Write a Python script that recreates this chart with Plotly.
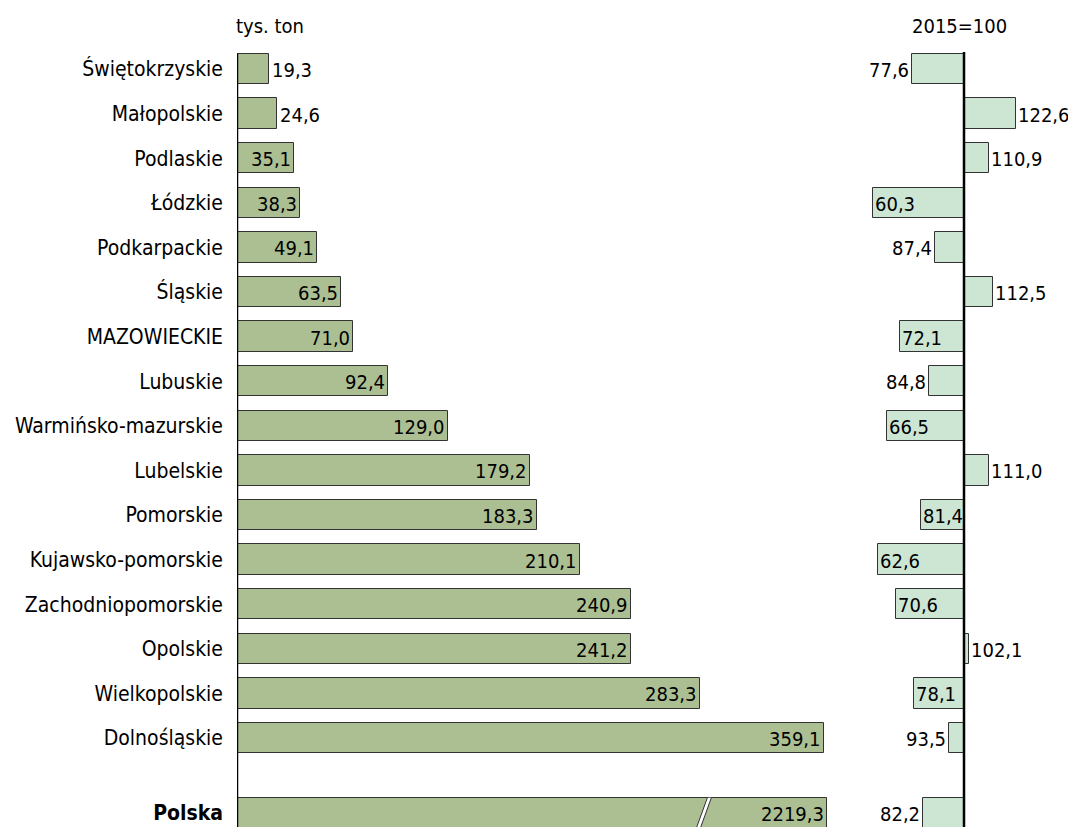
import plotly.graph_objects as go

# ---------------- data ----------------
regions = ["Świętokrzyskie", "Małopolskie", "Podlaskie", "Łódzkie", "Podkarpackie",
           "Śląskie", "MAZOWIECKIE", "Lubuskie", "Warmińsko-mazurskie", "Lubelskie",
           "Pomorskie", "Kujawsko-pomorskie", "Zachodniopomorskie", "Opolskie",
           "Wielkopolskie", "Dolnośląskie"]
tons = [19.3, 24.6, 35.1, 38.3, 49.1, 63.5, 71.0, 92.4, 129.0, 179.2,
        183.3, 210.1, 240.9, 241.2, 283.3, 359.1]
index_2015 = [77.6, 122.6, 110.9, 60.3, 87.4, 112.5, 72.1, 84.8, 66.5, 111.0,
              81.4, 62.6, 70.6, 102.1, 78.1, 93.5]
total_label = "Polska"
total_tons = 2219.3
total_index = 82.2
unit_left = "tys. ton"
unit_right = "2015=100"

# ---------------- style / layout ----------------
FONT = "DejaVu Sans Condensed, Liberation Sans, Arial, sans-serif"
FS = 21
VFS = 20
LEFT_FILL = "#abbf93"
RIGHT_FILL = "#cde6d3"
EDGE = "#333333"
OFF = 8                  # page body margin of the rendered html
W, H = 1076 - OFF, 827
ML = 237 - OFF
PLOT_W = W - ML
PX_LEFT = 1.634          # px per 1 tys. ton
PX_RIGHT = 2.3           # px per index point
LEFT_MAX = 370
RIGHT_START_PX = 860 - OFF
RIGHT_AXIS_PX = 964 - OFF
POLSKA_DRAWN = 361       # drawn (broken) length of the Polska bar
BREAK_AT = 284.5
POLSKA_GAP = 1.68
ROW_PX = 44.6
FIRST_ROW_PX = 69 - OFF
HEADER_PX = 26 - OFF
BAR_W = 0.68
# which right-panel negative bars carry their label inside
right_inside = [False, False, False, True, False, False, True, False, True, False,
                True, True, True, False, True, False]
total_right_inside = False

fmt = lambda v: f"{v:.1f}".replace(".", ",")

ypos = list(range(len(regions))) + [len(regions) - 1 + POLSKA_GAP]
labels = regions + [f"<b>{total_label}</b>"]

left_draw = tons + [POLSKA_DRAWN]
left_text = [fmt(v) for v in tons] + [fmt(total_tons)]
right_vals = index_2015 + [total_index]
right_in = right_inside + [total_right_inside]

d1 = LEFT_MAX * PX_LEFT / PLOT_W
d2 = (RIGHT_START_PX - ML) / PLOT_W
r_lo = 100 - (RIGHT_AXIS_PX - RIGHT_START_PX) / PX_RIGHT
r_hi = 100 + (W - RIGHT_AXIS_PX) / PX_RIGHT
y_top = -FIRST_ROW_PX / ROW_PX
y_bot = y_top + H / ROW_PX

fig = go.Figure()
fig.add_trace(go.Bar(
    y=ypos, x=left_draw, orientation="h", width=BAR_W,
    marker=dict(color=LEFT_FILL, line=dict(color=EDGE, width=1)),
    xaxis="x", yaxis="y", hoverinfo="skip", showlegend=False))
fig.add_trace(go.Bar(
    y=ypos, x=[v - 100 for v in right_vals], base=100, orientation="h", width=BAR_W,
    marker=dict(color=RIGHT_FILL, line=dict(color=EDGE, width=1)),
    xaxis="x2", yaxis="y", hoverinfo="skip", showlegend=False))

ann = []
for y, v, t in zip(ypos, left_draw, left_text):
    inside = v >= 30
    ann.append(dict(x=v, y=y, xref="x", yref="y", text=t, showarrow=False,
                    xanchor="right" if inside else "left",
                    xshift=-1 if inside else 1, yshift=-1,
                    font=dict(family=FONT, size=VFS, color="black")))
for y, v, inn in zip(ypos, right_vals, right_in):
    if v >= 100:
        xa, xs = "left", 0
    elif inn:
        xa, xs = "left", 0
    else:
        xa, xs = "right", -1
    ann.append(dict(x=v, y=y, xref="x2", yref="y", text=fmt(v), showarrow=False,
                    xanchor=xa, xshift=xs, yshift=-1,
                    font=dict(family=FONT, size=VFS, color="black")))
ann.append(dict(x=0, y=1 - HEADER_PX / H, xref="x", yref="paper", text=unit_left,
                showarrow=False, xanchor="left", yanchor="middle", xshift=-3,
                font=dict(family=FONT, size=VFS, color="black")))
ann.append(dict(x=100, y=1 - HEADER_PX / H, xref="x2", yref="paper", text=unit_right,
                showarrow=False, xanchor="center", yanchor="middle", xshift=-5,
                font=dict(family=FONT, size=VFS, color="black")))

shapes = []
line_top = -BAR_W / 2
shapes.append(dict(type="line", xref="x", yref="y", x0=0, x1=0, y0=line_top, y1=y_bot + 1,
                   line=dict(color="black", width=2.5)))
shapes.append(dict(type="line", xref="x2", yref="y", x0=100, x1=100, y0=line_top - 0.04,
                   y1=y_bot + 1, line=dict(color="black", width=2.5)))
# axis break on the Polska bar
py = ypos[-1]
yt, yb = py - BAR_W / 2, py + BAR_W / 2
slant = 11 / PX_LEFT
gap = 4 / PX_LEFT
bx0 = BREAK_AT - slant / 2
shapes.append(dict(type="path", xref="x", yref="y",
                   path=f"M {bx0},{yb} L {bx0 + slant},{yt} L {bx0 + slant + gap},{yt} L {bx0 + gap},{yb} Z",
                   fillcolor="white", line=dict(width=0)))
for dx in (0, gap):
    shapes.append(dict(type="line", xref="x", yref="y", x0=bx0 + dx, y0=yb,
                       x1=bx0 + slant + dx, y1=yt, line=dict(color=EDGE, width=1)))

fig.update_layout(
    width=W, height=H, margin=dict(l=ML, r=0, t=0, b=0, autoexpand=False),
    paper_bgcolor="white", plot_bgcolor="white",
    font=dict(family=FONT, size=FS, color="black"),
    barmode="overlay", bargap=0,
    xaxis=dict(domain=[0, d1], range=[0, LEFT_MAX], visible=False, fixedrange=True,
               automargin=False),
    xaxis2=dict(domain=[d2, 1], range=[r_lo, r_hi], visible=False, anchor="y",
                automargin=False),
    yaxis=dict(range=[y_bot, y_top], tickvals=ypos, ticktext=labels, showgrid=False,
               zeroline=False, showline=False, ticks="", ticklabelstandoff=13,
               automargin=False,
               tickfont=dict(family=FONT, size=FS, color="black")),
    annotations=ann, shapes=shapes,
)

fig.write_html("out.html")
